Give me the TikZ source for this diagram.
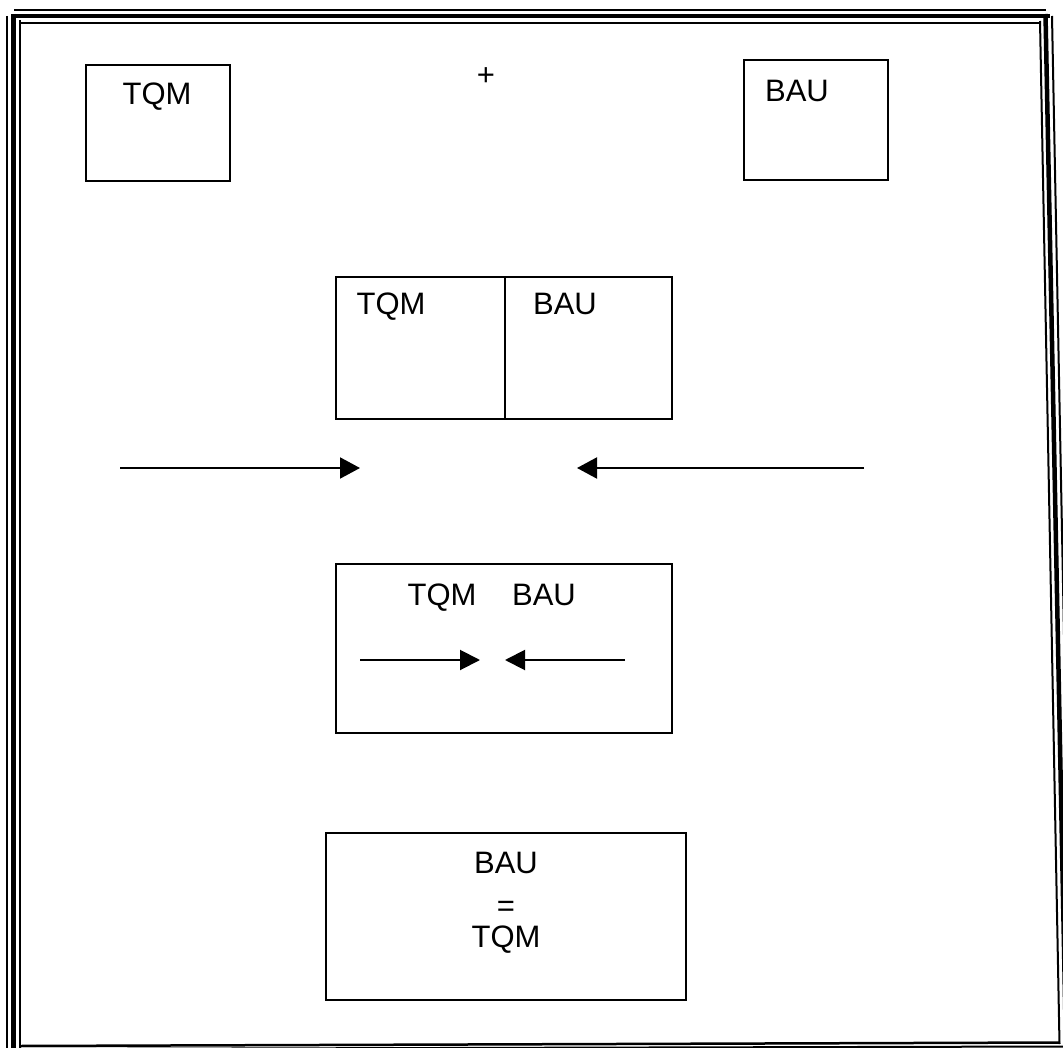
\documentclass[tikz,border=0pt]{standalone}
\usepackage{fontspec}
\setmainfont{Liberation Sans}
\usetikzlibrary{arrows.meta}
\begin{document}
\begin{tikzpicture}[x=1pt,y=-1pt,
  box/.style={draw,line width=2pt,inner sep=0pt},
  lbl/.style={inner sep=0pt,anchor=base,font=\fontsize{31}{36}\selectfont},
  thinb/.style={line width=2pt},
  thickb/.style={line width=4.5pt},
  arr/.style={line width=2pt,-{Triangle[length=20pt,width=21pt]}}]
\useasboundingbox (0,0) rectangle (1063,1048);
% page border
\draw[thinb] (14,10) -- (1046,10);
\draw[thickb] (11,16) -- (1050,16);
\draw[thinb] (19,23) -- (1041,23);
\draw[thinb] (6.5,16) -- (6.5,1048);
\draw[thickb] (13.5,14) -- (13.5,1048);
\draw[thinb] (20,20) -- (20,1048);
\draw[thinb] (1040,21) -- (1059.5,1044);
\draw[thickb] (1045.5,14) -- (1066,1048);
\draw[thinb] (1052,16) -- (1072,1048);
\draw[line width=2.5pt] (20,1046) -- (1060,1042.5);
\draw[thinb] (20,1049) -- (1063,1046.5);
% top boxes
\node[box,minimum width=144pt,minimum height=116pt] (b1) at (158,123) {};
\node[lbl] (t1) at (157,105) {TQM};
\node[lbl] (plus) at (486,86) {+};
\node[box,minimum width=144pt,minimum height=120pt] (b2) at (816,120) {};
\node[lbl] (t2) at (797,102) {BAU};
% split box
\node[box,minimum width=169pt,minimum height=142pt] (m1) at (420.5,348) {};
\node[box,minimum width=167pt,minimum height=142pt] (m2) at (588.5,348) {};
\node[lbl] (t3) at (391,315) {TQM};
\node[lbl] (t4) at (565,315) {BAU};
% big arrows
\coordinate (a1s) at (120,468);
\coordinate (a1e) at (360,468);
\coordinate (a2s) at (864,468);
\coordinate (a2e) at (577,468);
\draw[arr] (a1s) -- (a1e);
\draw[arr] (a2s) -- (a2e);
% box 3
\node[box,minimum width=336pt,minimum height=169pt] (b3) at (504,648.5) {};
\node[lbl] (t5) at (442,605) {TQM};
\node[lbl] (t6) at (544,605) {BAU};
\coordinate (s1) at (360,660);
\coordinate (e1) at (480,660);
\coordinate (s2) at (625,660);
\coordinate (e2) at (505,660);
\draw[arr,-{Triangle[length=20pt,width=20pt]}] (s1) -- (e1);
\draw[arr,-{Triangle[length=20pt,width=20pt]}] (s2) -- (e2);
% box 4
\node[box,minimum width=360pt,minimum height=167pt] (b4) at (506,916.5) {};
\node[lbl] (t7) at (506,873) {BAU};
\node[lbl] (t8) at (506,916) {=};
\node[lbl] (t9) at (506,947) {TQM};
\end{tikzpicture}
\end{document}
